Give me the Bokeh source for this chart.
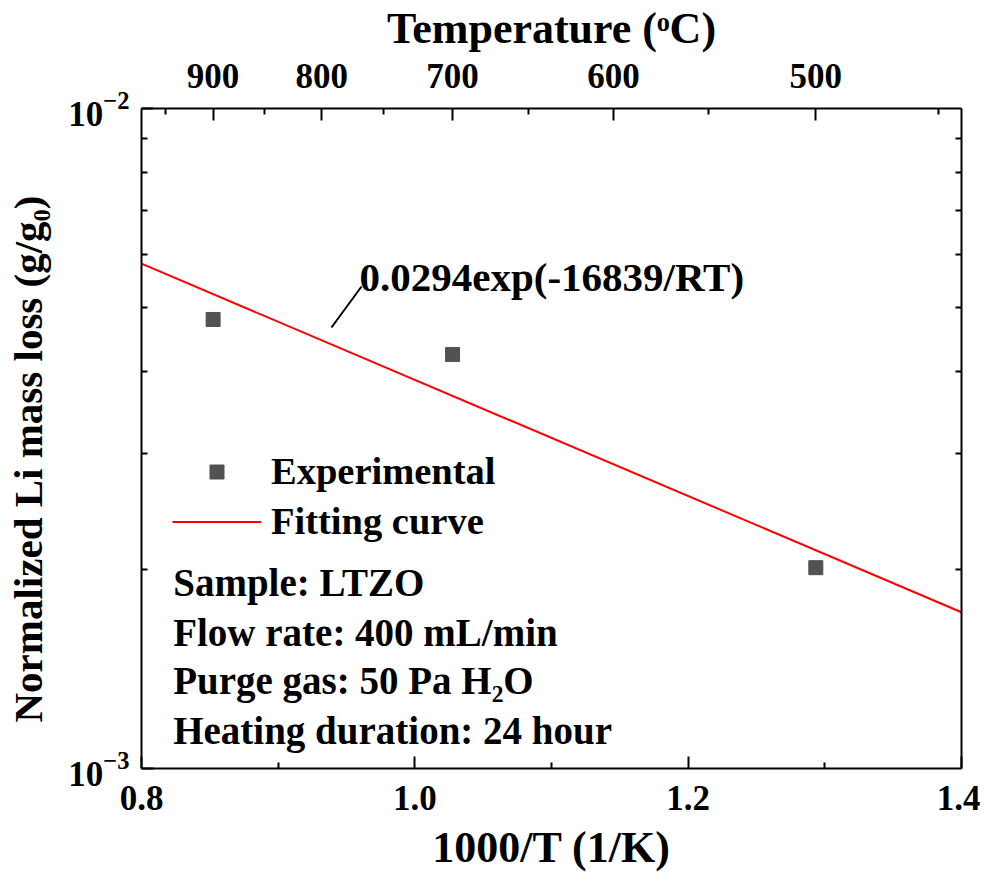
from bokeh.plotting import figure
from bokeh.models import (Range1d, LinearAxis, LogAxis, FixedTicker, LogTickFormatter,
                          CustomJSTickFormatter, PrintfTickFormatter, Legend, LegendItem, Label)
from bokeh.embed import file_html
from bokeh.resources import INLINE

# ---------------- data ----------------
exp_temp_c = [900, 700, 500]                    # experiment temperatures (degC)
exp_loss = [4.79e-3, 4.24e-3, 2.015e-3]         # normalized Li mass loss (g/g0)
fit_x = [0.8, 1.4]                               # 1000/T ends of fitted curve
fit_y = [5.82e-3, 1.725e-3]                      # 0.0294exp(-16839/RT) at the ends
x_ticks = [0.8, 1.0, 1.2, 1.4]
x_minor = [0.9, 1.1, 1.3]
y_ticks = [1e-3, 1e-2]
y_minor = [2e-3, 3e-3, 4e-3, 5e-3, 6e-3, 7e-3, 8e-3, 9e-3]
top_temps = [900, 800, 700, 600, 500]
top_minor_temps = [950, 850, 750, 650, 550, 450]
info_lines = ["Sample: LTZO", "Flow rate: 400 mL/min", "Purge gas: 50 Pa H\u2082O",
              "Heating duration: 24 hour"]
fit_text = "0.0294exp(-16839/RT)"

exp_x = [1000.0 / (t + 273.15) for t in exp_temp_c]
top_x = [1000.0 / (t + 273.15) for t in top_temps]
top_minor_x = [1000.0 / (t + 273.15) for t in top_minor_temps]

FONT = "Liberation Serif"

p = figure(width=980, height=882, y_axis_type="log",
           x_range=Range1d(0.8, 1.4), y_range=Range1d(1e-3, 1e-2),
           output_backend="svg", toolbar_location=None,
           min_border_left=141, min_border_right=19, min_border_top=108, min_border_bottom=114)
p.xgrid.visible = False
p.ygrid.visible = False
p.outline_line_color = None
p.background_fill_color = "white"


def style_axis(ax, tick_font="35px", title_font="44px"):
    ax.axis_line_width = 2
    ax.axis_line_color = "black"
    ax.major_tick_in = 12
    ax.major_tick_out = 0
    ax.minor_tick_in = 6
    ax.minor_tick_out = 0
    ax.major_tick_line_width = 2
    ax.minor_tick_line_width = 2
    ax.major_label_text_font = FONT
    ax.major_label_text_font_style = "bold"
    ax.major_label_text_font_size = tick_font
    ax.major_label_text_color = "black"
    ax.axis_label_text_font = FONT
    ax.axis_label_text_font_style = "bold"
    ax.axis_label_text_font_size = title_font
    ax.axis_label_text_color = "black"


xa = p.xaxis[0]
xa.ticker = FixedTicker(ticks=x_ticks, minor_ticks=x_minor)
xa.formatter = PrintfTickFormatter(format="%.1f")
xa.axis_label = "1000/T (1/K)"
style_axis(xa)
xa.major_label_standoff = 17
xa.axis_label_standoff = 10

ya = p.yaxis[0]
ya.ticker = FixedTicker(ticks=y_ticks, minor_ticks=y_minor)
ya.formatter = LogTickFormatter()
ya.axis_label = "Normalized Li mass loss (g/g\u2080)" + "\u00a0" * 4
style_axis(ya, title_font="41px")
ya.major_label_standoff = 12
ya.axis_label_standoff = 14

top = LinearAxis(ticker=FixedTicker(ticks=top_x, minor_ticks=top_minor_x),
                 formatter=CustomJSTickFormatter(code="return (1000/tick - 273.15).toFixed(0);"),
                 axis_label="Temperature (\u1d52C)")
style_axis(top)
top.major_label_standoff = 21
top.axis_label_standoff = 8
p.add_layout(top, "above")

right = LogAxis(ticker=FixedTicker(ticks=[], minor_ticks=y_minor))
style_axis(right)
p.add_layout(right, "right")

# ---------------- marks ----------------
ln = p.line(fit_x, fit_y, line_color="#ff0000", line_width=2)
sc = p.scatter(exp_x, exp_loss, marker="square", size=14, fill_color="#525252",
               line_color="#525252")

# leader line for the fit annotation
p.segment(x0=[0.961], y0=[5.374e-3], x1=[0.939], y1=[4.658e-3], line_color="black", line_width=2)
p.add_layout(Label(x=0.9595, y=5.546e-3, text=fit_text, text_font=FONT, text_font_style="bold",
                   text_font_size="41px", text_baseline="alphabetic", text_color="black"))

legend = Legend(items=[LegendItem(label="Experimental", renderers=[sc]),
                       LegendItem(label="Fitting curve", renderers=[ln])],
                location=(31, 225), orientation="vertical",
                label_text_font=FONT, label_text_font_style="bold", label_text_font_size="38.5px",
                label_text_color="black",
                glyph_width=89, glyph_height=35, label_standoff=10, spacing=6,
                padding=0, margin=0, border_line_color=None, background_fill_alpha=0)
p.add_layout(legend, "center")

info_y = [1.913e-3, 1.607e-3, 1.359e-3, 1.142e-3]
for txt, yy in zip(info_lines, info_y):
    p.add_layout(Label(x=0.8232, y=yy, text=txt, text_font=FONT, text_font_style="bold",
                       text_font_size="39px", text_baseline="alphabetic", text_color="black"))

open("out.html", "w").write(file_html(p, INLINE))
